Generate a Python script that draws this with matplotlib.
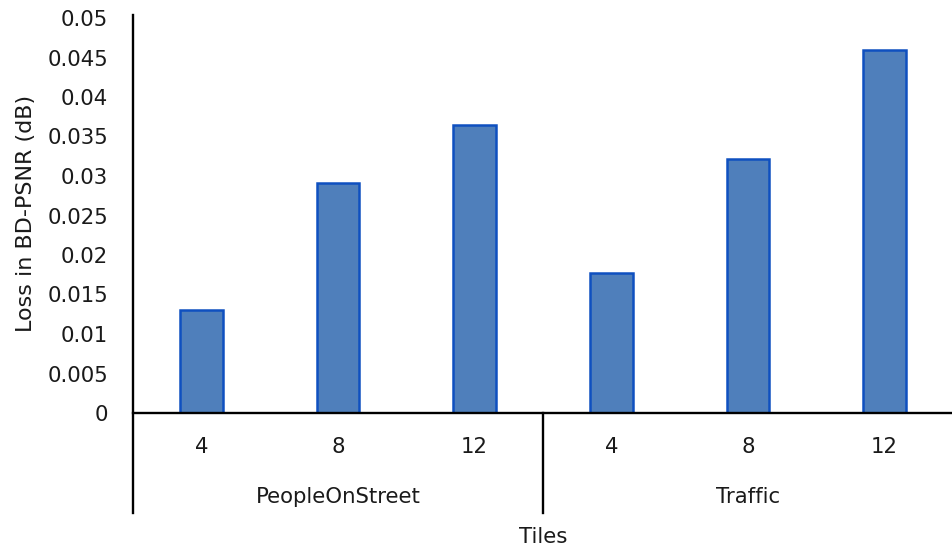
import matplotlib
matplotlib.use("Agg")
import matplotlib.pyplot as plt
import numpy as np

groups = ["PeopleOnStreet", "Traffic"]
tiles = ["4", "8", "12"]
values = [0.0131, 0.0291, 0.0364, 0.0177, 0.0322, 0.0460]
yticks = [0, 0.005, 0.01, 0.015, 0.02, 0.025, 0.03, 0.035, 0.04, 0.045, 0.05]
ytick_labels = ["0", "0.005", "0.01", "0.015", "0.02", "0.025", "0.03", "0.035", "0.04", "0.045", "0.05"]

plt.rcParams['font.family'] = ['DejaVu Sans']
FS = 15.3
TC = "#1a1a1a"

fig = plt.figure(figsize=(9.52, 5.56), dpi=100)
ax = fig.add_axes([133/952, 143/556, 820/952, 395/556])

x = np.arange(len(values))
ax.bar(x, values, width=0.31, color="#4F7FBB", edgecolor="#0F50C0", linewidth=1.8, zorder=2)

ax.set_xlim(-0.5, len(values) - 0.5)
ax.set_ylim(0, 0.05)
ax.set_yticks(yticks)
ax.set_yticklabels(ytick_labels, fontsize=FS, color=TC)
ax.tick_params(axis="y", length=0, pad=18)
ax.set_xticks([])
for s in ax.spines.values():
    s.set_visible(False)

# axis lines
ax.plot([-0.5, len(values) - 0.5], [0, 0], color="black", lw=1.7, clip_on=False, zorder=3)
ax.plot([0, 0], [1.0076, -0.2532], transform=ax.transAxes, color="black", lw=1.7, clip_on=False, zorder=3)
trans = ax.get_xaxis_transform()
ax.plot([2.5, 2.5], [0, -0.2532], transform=trans, color="black", lw=1.7, clip_on=False, zorder=3)

# category labels
labels = tiles * len(groups)
for xi, lab in zip(x, labels):
    ax.text(xi, -0.0861, lab, transform=trans, ha="center", va="center", fontsize=FS, color=TC)
for gi, g in enumerate(groups):
    ax.text(gi * 3 + 1, -0.2127, g, transform=trans, ha="center", va="center", fontsize=FS, color=TC)
ax.text(2.5, -0.3139, "Tiles", transform=trans, ha="center", va="center", fontsize=FS, color=TC)

fig.text(26/952, 1 - 213/556, "Loss in BD-PSNR (dB)", rotation=90, ha="center", va="center",
         fontsize=16, color=TC)

fig.savefig("out.png", dpi=100)
